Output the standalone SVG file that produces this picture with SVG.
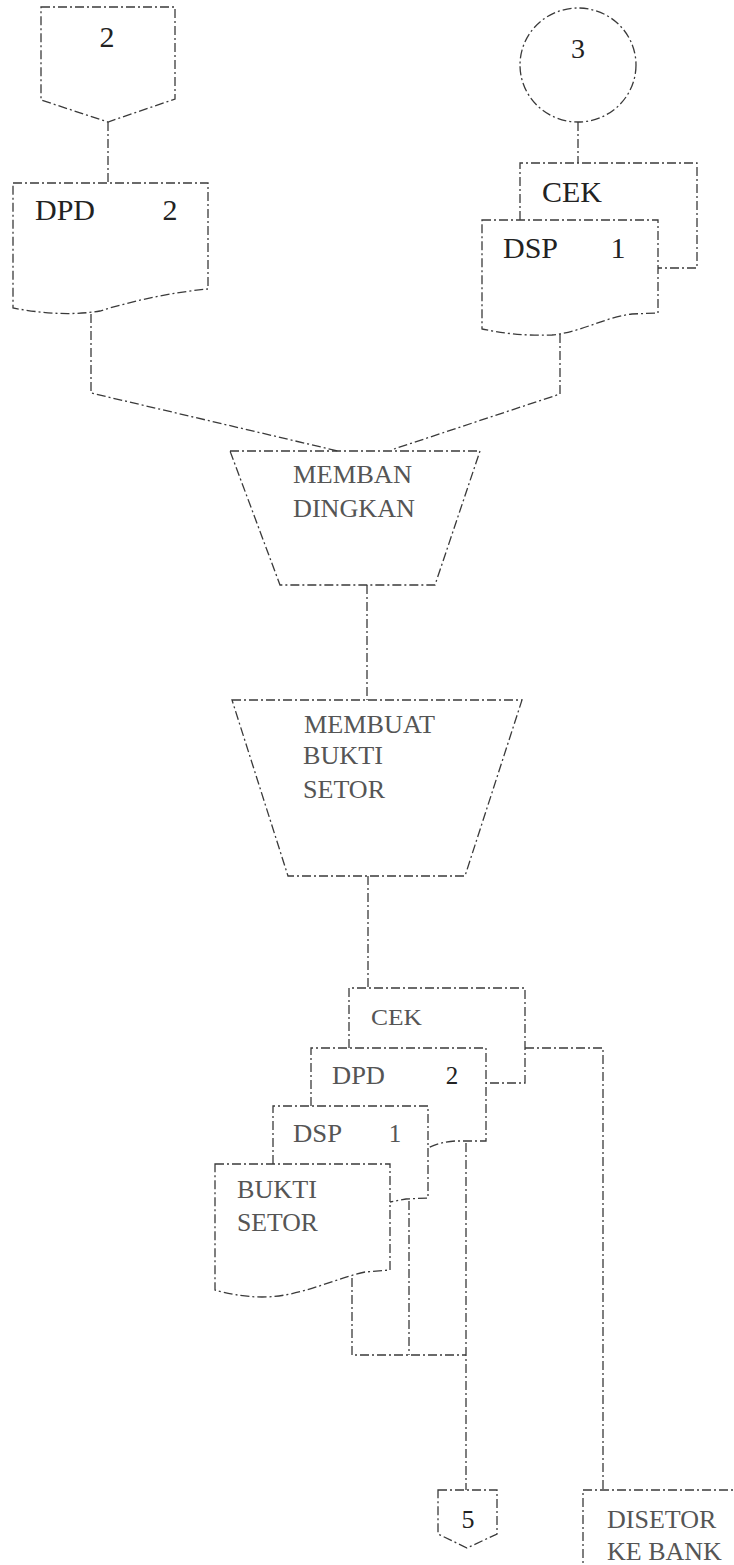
<svg xmlns="http://www.w3.org/2000/svg" width="734" height="1565" viewBox="0 0 734 1565">
<style>
.s{fill:none;stroke:#3a3a3a;stroke-width:1.3;stroke-dasharray:9 3 2 3;stroke-linejoin:miter}
text{font-family:'Liberation Serif','Times New Roman','DejaVu Serif',serif}
.t{fill:#222}
.f{fill:#555}
</style>
<rect width="734" height="1565" fill="#fff"/>
<g id="connectors">
<path class="s" d="M108,122 V183"/>
<path class="s" d="M578,122 V163"/>
<path class="s" d="M91,314 V393 L338,451"/>
<path class="s" d="M560,334 V394 L394,449"/>
<path class="s" d="M367,585 V700"/>
<path class="s" d="M368,876 V988"/>
<path class="s" d="M525,1048 H603 V1490"/>
<path class="s" d="M466,1143 V1490"/>
<path class="s" d="M409,1201 V1355"/>
<path class="s" d="M352,1278 V1355 H466"/>
</g>
<g id="offpage2">
<path class="s" d="M41,7 H175 V99 L108,122 L41,100 Z"/>
<text class="t" font-family="Liberation Serif, serif" x="107" y="47" font-size="30" text-anchor="middle">2</text>
</g>
<g id="dpd-top">
<path class="s" d="M13,183 H208 V289 C175,292 135,300 100,311 C70,316 40,313 13,308 Z"/>
<text class="t" font-family="Liberation Serif, serif" x="35" y="220" font-size="30">DPD</text>
<text class="t" font-family="Liberation Serif, serif" x="170" y="220" font-size="30" text-anchor="middle">2</text>
</g>
<g id="conn3">
<ellipse class="s" cx="578" cy="65" rx="58" ry="57"/>
<text class="t" font-family="Liberation Serif, serif" x="578" y="58" font-size="28" text-anchor="middle">3</text>
</g>
<g id="cek-top">
<path class="s" d="M520,220 V163 H697 V268 H658"/>
<text class="t" font-family="Liberation Serif, serif" x="542" y="202" font-size="30">CEK</text>
</g>
<g id="dsp-top">
<path class="s" d="M482,220 H658 V313 L632,314 C602,318 582,332 552,335 C522,336 502,333 482,329 Z"/>
<text class="t" font-family="Liberation Serif, serif" x="503" y="258" font-size="30">DSP</text>
<text class="t" font-family="Liberation Serif, serif" x="618" y="258" font-size="30" text-anchor="middle">1</text>
</g>
<g id="membandingkan">
<path class="s" d="M230,451 H480 L435,585 H280 Z"/>
<text class="f" font-family="Liberation Serif, serif" x="293" y="483" font-size="26" textLength="119" lengthAdjust="spacingAndGlyphs">MEMBAN</text>
<text class="f" font-family="Liberation Serif, serif" x="293" y="517" font-size="26" textLength="122" lengthAdjust="spacingAndGlyphs">DINGKAN</text>
</g>
<g id="membuat">
<path class="s" d="M232,700 H522 L465,876 H288 Z"/>
<text class="f" font-family="Liberation Serif, serif" x="304" y="733" font-size="26" textLength="131" lengthAdjust="spacingAndGlyphs">MEMBUAT</text>
<text class="f" font-family="Liberation Serif, serif" x="303" y="764" font-size="26" textLength="80" lengthAdjust="spacingAndGlyphs">BUKTI</text>
<text class="f" font-family="Liberation Serif, serif" x="303" y="798" font-size="26" textLength="82" lengthAdjust="spacingAndGlyphs">SETOR</text>
</g>
<g id="cek-bottom">
<path class="s" d="M349,1048 V988 H525 V1083 H486"/>
<text class="f" font-family="Liberation Serif, serif" x="371" y="1025" font-size="23" textLength="51" lengthAdjust="spacingAndGlyphs">CEK</text>
</g>
<g id="dpd-bottom">
<path class="s" d="M311,1106 V1048 H486 V1141 H455 Q440,1142 428,1148"/>
<text class="f" font-family="Liberation Serif, serif" x="332" y="1084" font-size="25" textLength="53" lengthAdjust="spacingAndGlyphs">DPD</text>
<text class="t" font-family="Liberation Serif, serif" x="452" y="1084" font-size="25" text-anchor="middle">2</text>
</g>
<g id="dsp-bottom">
<path class="s" d="M273,1164 V1106 H428 V1198 L406,1199 L390,1202"/>
<text class="f" font-family="Liberation Serif, serif" x="293" y="1142" font-size="25" textLength="49" lengthAdjust="spacingAndGlyphs">DSP</text>
<text class="f" font-family="Liberation Serif, serif" x="395" y="1142" font-size="25" text-anchor="middle">1</text>
</g>
<g id="bukti-setor">
<path class="s" d="M215,1164 H390 V1270 L365,1272 C330,1280 300,1297 262,1297 C242,1297 226,1293 215,1290 Z"/>
<text class="f" font-family="Liberation Serif, serif" x="237" y="1198" font-size="25" textLength="80" lengthAdjust="spacingAndGlyphs">BUKTI</text>
<text class="f" font-family="Liberation Serif, serif" x="237" y="1231" font-size="25" textLength="81" lengthAdjust="spacingAndGlyphs">SETOR</text>
</g>
<g id="offpage5">
<path class="s" d="M438,1490 H497 V1534 L467,1548 L438,1534 Z"/>
<text class="t" font-family="Liberation Serif, serif" x="468" y="1528" font-size="26" text-anchor="middle">5</text>
</g>
<g id="disetor">
<path class="s" d="M745,1490 H583 V1570"/>
<text class="f" font-family="Liberation Serif, serif" x="607" y="1528" font-size="26">DISETOR</text>
<text class="f" font-family="Liberation Serif, serif" x="607" y="1560" font-size="26">KE BANK</text>
</g>
</svg>
